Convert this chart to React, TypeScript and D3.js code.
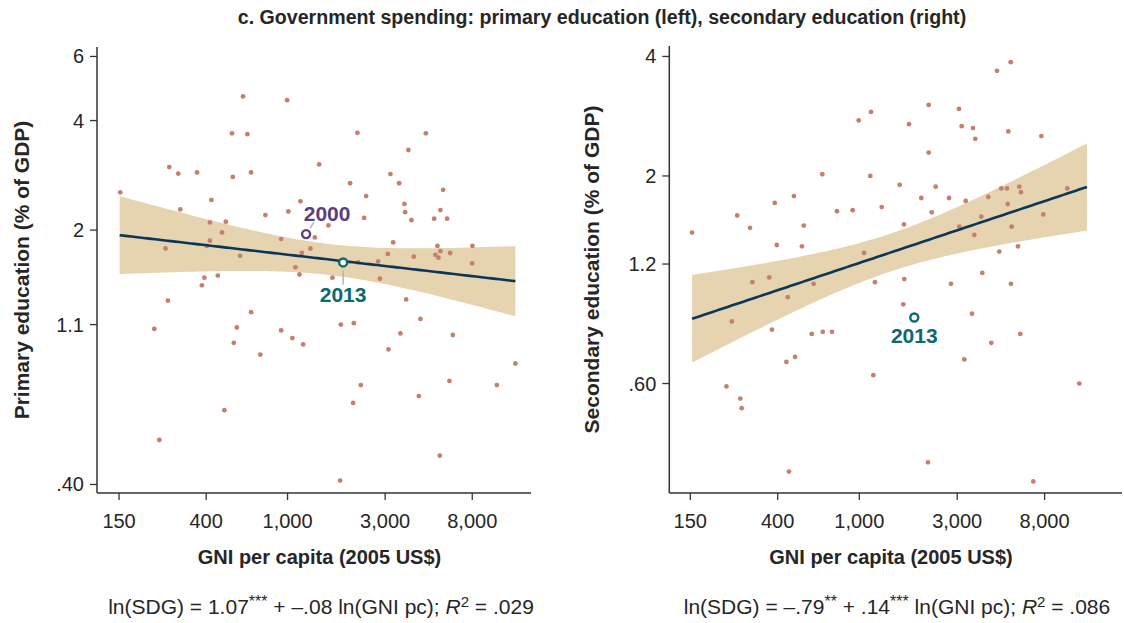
import React, { useEffect } from 'react';
import * as d3 from 'd3';

// ---------- tick definitions ----------
const gniTicks = [150, 400, 1000, 3000, 8000];
const gniTickLabels = ['150', '400', '1,000', '3,000', '8,000'];
const primaryTicks = [0.4, 1.1, 2, 4, 6];
const primaryTickLabels = ['.40', '1.1', '2', '4', '6'];
const secondaryTicks = [0.6, 1.2, 2, 4];
const secondaryTickLabels = ['.60', '1.2', '2', '4'];

// ---------- left panel: primary education ----------
const primaryGni = [
  152, 606, 995, 535, 636, 2196, 4743, 3899, 264, 292, 361, 540, 663, 1427, 3184, 3511, 2022, 2421, 5763, 424,
  299, 1156, 1009, 779, 3728, 3757, 5590, 2368, 4033, 5208, 6028, 499, 417, 1584, 478, 1359, 930, 417, 3282, 253,
  403, 5405, 8016, 1293, 1174, 586, 3092, 5590, 5285, 6236, 5466, 4143, 2772, 2213, 7990, 1092, 1143, 1657, 2826, 392,
  381, 456, 260, 3800, 663, 4463, 223, 565, 930, 1821, 2109, 1056, 546, 1191, 3564, 6429, 3113, 736, 13010, 2281,
  6188, 10551, 2092, 4383, 491, 236, 5553, 1807,
];
const primarySpend = [
  2.54, 4.66, 4.55, 3.69, 3.67, 3.70, 3.69, 3.32, 2.98, 2.86, 2.88, 2.80, 2.88, 3.03, 2.85, 2.69, 2.69, 2.48, 2.58, 2.42,
  2.28, 2.40, 2.25, 2.20, 2.36, 2.24, 2.27, 2.16, 2.13, 2.15, 2.15, 2.11, 2.10, 2.06, 1.97, 1.91, 1.89, 1.87, 1.85, 1.78,
  1.81, 1.81, 1.81, 1.78, 1.73, 1.70, 1.72, 1.75, 1.71, 1.73, 1.68, 1.69, 1.64, 1.63, 1.62, 1.58, 1.51, 1.48, 1.47, 1.48,
  1.41, 1.50, 1.28, 1.29, 1.19, 1.14, 1.07, 1.08, 1.06, 1.10, 1.11, 1.01, 0.98, 0.97, 1.04, 1.03, 0.94, 0.91, 0.86, 0.75,
  0.77, 0.75, 0.67, 0.70, 0.64, 0.53, 0.48, 0.41,
];

// ---------- right panel: secondary education ----------
const secondaryGni = [
  153, 5468, 4689, 2178, 3060, 1140, 993, 1746, 3155, 3582, 5322, 7709, 3675, 2178, 660, 1131, 1573, 2356, 4920, 5245,
  6021, 6138, 10320, 480, 387, 2004, 2736, 3299, 4252, 5288, 1285, 778, 928, 2253, 7883, 254, 3930, 293, 536, 1650,
  3071, 5529, 3634, 396, 525, 1054, 4811, 5934, 301, 364, 599, 448, 1192, 1656, 2797, 3975, 5486, 239, 375, 586,
  663, 736, 1638, 3541, 4398, 6090, 3248, 441, 486, 1170, 11810, 225, 263, 267, 2161, 454, 7048,
];
const secondarySpend = [
  1.44, 3.87, 3.68, 3.02, 2.95, 2.90, 2.76, 2.70, 2.67, 2.64, 2.59, 2.52, 2.48, 2.29, 2.02, 2.00, 1.90, 1.88, 1.86, 1.86,
  1.88, 1.82, 1.86, 1.78, 1.71, 1.76, 1.76, 1.73, 1.77, 1.70, 1.67, 1.63, 1.64, 1.62, 1.60, 1.59, 1.58, 1.48, 1.50, 1.51,
  1.49, 1.49, 1.42, 1.34, 1.33, 1.28, 1.29, 1.33, 1.08, 1.11, 1.07, 0.99, 1.08, 1.10, 1.07, 1.14, 1.07, 0.86, 0.82, 0.80,
  0.81, 0.81, 0.95, 0.90, 0.76, 0.80, 0.69, 0.68, 0.70, 0.63, 0.60, 0.59, 0.55, 0.52, 0.38, 0.36, 0.34,
];

// ---------- highlighted years ----------
const primaryHighlightYears = ['2000', '2013'];
const primaryHighlightGni = [1232, 1869];
const primaryHighlightSpend = [1.95, 1.63];
const secondaryHighlightYears = ['2013'];
const secondaryHighlightGni = [1853];
const secondaryHighlightSpend = [0.88];

// ---------- fitted lines with confidence bands (log-log) ----------
const primaryFit = { intercept: 0.9887, slope: -0.0653, centerLn: 7.387, spreadLn: 1.025, minHalf: 0.098, from: 151, to: 13000 };
const secondaryFit = { intercept: -1.003, slope: 0.1725, centerLn: 7.252, spreadLn: 1.066, minHalf: 0.110, from: 153, to: 12870 };

const primaryCaption = { intercept: '1.07', interceptStars: '***', slope: '\u2013.08', slopeStars: '', r2: '.029' };
const secondaryCaption = { intercept: '\u2013.79', interceptStars: '**', slope: '.14', slopeStars: '***', r2: '.086' };

// ---------- styles ----------
const FONT = '"Liberation Sans", Arial, Helvetica, sans-serif';
const DOT = '#c4806f';
const BAND = '#e6d4b1';
const LINE = '#0d3557';
const AXIS = '#333333';
const TEXT = '#262626';

type Hl = { year: string; gni: number; spend: number; color: string; labelDx: number; labelDy: number; leader: number[] | null };

type PanelProps = {
  x0: number; x1: number; y0: number; y1: number;
  xDomain: [number, number]; yDomain: [number, number];
  gni: number[]; spend: number[];
  yTicks: number[]; yTickLabels: string[];
  fit: typeof primaryFit;
  highlights: Hl[];
  yTitle: string; yTitleX: number;
  xTitleX: number; captionX: number;
  caption: typeof primaryCaption;
};

function Panel(p: PanelProps) {
  const x = d3.scaleLog().domain(p.xDomain).range([p.x0, p.x1]);
  const y = d3.scaleLog().domain(p.yDomain).range([p.y1, p.y0]);

  const lnFrom = Math.log(p.fit.from);
  const lnTo = Math.log(p.fit.to);
  const samples = d3.range(0, 101).map((i) => lnFrom + ((lnTo - lnFrom) * i) / 100);
  const half = (l: number) => p.fit.minHalf * Math.sqrt(1 + ((l - p.fit.centerLn) / p.fit.spreadLn) ** 2);
  const pred = (l: number) => p.fit.intercept + p.fit.slope * l;

  const area = d3
    .area<number>()
    .x((l) => x(Math.exp(l)))
    .y0((l) => y(Math.exp(pred(l) - half(l))))
    .y1((l) => y(Math.exp(pred(l) + half(l))));
  const line = d3
    .line<number>()
    .x((l) => x(Math.exp(l)))
    .y((l) => y(Math.exp(pred(l))));

  const tickLen = 7;

  return (
    <g>
      <path d={area(samples) || ''} fill={BAND} stroke="none" />
      {p.gni.map((g, i) => (
        <circle key={i} cx={x(g)} cy={y(p.spend[i])} r={2.4} fill={DOT} />
      ))}
      <path d={line(samples) || ''} fill="none" stroke={LINE} strokeWidth={2.6} />

      {p.highlights.map((h, i) => {
        const hx = x(h.gni);
        const hy = y(h.spend);
        return (
          <g key={i}>
            {h.leader && (
              <line x1={hx + h.leader[0]} y1={hy + h.leader[1]} x2={hx + h.leader[2]} y2={hy + h.leader[3]} stroke="#b5b5b5" strokeWidth={1.5} />
            )}
            <circle cx={hx} cy={hy} r={4} fill="white" stroke={h.color} strokeWidth={2.4} />
            <text x={hx + h.labelDx} y={hy + h.labelDy} textAnchor="middle" fontFamily={FONT} fontWeight="bold" fontSize={21} fill={h.color}>
              {h.year}
            </text>
          </g>
        );
      })}

      {/* axes */}
      <line x1={p.x0} y1={p.y0} x2={p.x0} y2={p.y1} stroke={AXIS} strokeWidth={1.5} />
      <line x1={p.x0} y1={p.y1} x2={p.x1} y2={p.y1} stroke={AXIS} strokeWidth={1.5} />
      {p.yTicks.map((t, i) => (
        <g key={'y' + i}>
          <line x1={p.x0 - tickLen} x2={p.x0} y1={y(t)} y2={y(t)} stroke={AXIS} strokeWidth={1.3} />
          <text x={p.x0 - tickLen - 6} y={y(t)} dy="0.35em" textAnchor="end" fontFamily={FONT} fontSize={20} fill={TEXT}>
            {p.yTickLabels[i]}
          </text>
        </g>
      ))}
      {gniTicks.map((t, i) => (
        <g key={'x' + i}>
          <line x1={x(t)} x2={x(t)} y1={p.y1} y2={p.y1 + tickLen} stroke={AXIS} strokeWidth={1.3} />
          <text x={x(t)} y={p.y1 + 35} textAnchor="middle" fontFamily={FONT} fontSize={20} fill={TEXT}>
            {gniTickLabels[i]}
          </text>
        </g>
      ))}

      <text x={p.xTitleX} y={p.y1 + 71} textAnchor="middle" fontFamily={FONT} fontWeight="bold" fontSize={20} fill={TEXT}>
        GNI per capita (2005 US$)
      </text>
      <text
        transform={`translate(${p.yTitleX},${(p.y0 + p.y1) / 2}) rotate(-90)`}
        textAnchor="middle"
        dy="0.35em"
        fontFamily={FONT}
        fontWeight="bold"
        fontSize={21}
        fill={TEXT}
      >
        {p.yTitle}
      </text>

      <text x={p.captionX} y={p.y1 + 121} textAnchor="middle" fontFamily={FONT} fontSize={21} fill={TEXT}>
        ln(SDG) = {p.caption.intercept}
        <tspan dy={-7} fontSize={16}>{p.caption.interceptStars}</tspan>
        <tspan dy={7}> + {p.caption.slope}</tspan>
        {p.caption.slopeStars && <tspan dy={-7} fontSize={16}>{p.caption.slopeStars}</tspan>}
        <tspan dy={p.caption.slopeStars ? 7 : 0}> ln(GNI pc); </tspan>
        <tspan fontStyle="italic">R</tspan>
        <tspan dy={-7} fontSize={15}>2</tspan>
        <tspan dy={7}> = {p.caption.r2}</tspan>
      </text>
    </g>
  );
}

export default function App() {
  useEffect(() => {
    document.body.style.margin = '0';
  }, []);

  const leftHl: Hl[] = primaryHighlightYears.map((yr, i) => ({
    year: yr,
    gni: primaryHighlightGni[i],
    spend: primaryHighlightSpend[i],
    color: yr === '2000' ? '#5b3f7d' : '#0a6a6e',
    labelDx: yr === '2000' ? 21 : 0,
    labelDy: yr === '2000' ? -13 : 40,
    leader: yr === '2000' ? [4, -6, 8, -12] : [0, 8, 0, 22],
  }));
  const rightHl: Hl[] = secondaryHighlightYears.map((yr, i) => ({
    year: yr,
    gni: secondaryHighlightGni[i],
    spend: secondaryHighlightSpend[i],
    color: '#0a6a6e',
    labelDx: 0,
    labelDy: 25,
    leader: null,
  }));

  return (
    <svg width={1124} height={623} style={{ display: 'block', background: 'white' }}>
      <rect width={1124} height={623} fill="white" />
      <text x={602} y={24} textAnchor="middle" fontFamily={FONT} fontWeight="bold" fontSize={19.6} fill={TEXT}>
        c. Government spending: primary education (left), secondary education (right)
      </text>
      <Panel
        x0={97}
        x1={531}
        y0={47}
        y1={493}
        xDomain={[117, 15500]}
        yDomain={[0.379, 6.37]}
        gni={primaryGni}
        spend={primarySpend}
        yTicks={primaryTicks}
        yTickLabels={primaryTickLabels}
        fit={primaryFit}
        highlights={leftHl}
        yTitle="Primary education (% of GDP)"
        yTitleX={22}
        xTitleX={319.5}
        captionX={321}
        caption={primaryCaption}
      />
      <Panel
        x0={669.3}
        x1={1122}
        y0={46}
        y1={493}
        xDomain={[118.5, 19070]}
        yDomain={[0.318, 4.25]}
        gni={secondaryGni}
        spend={secondarySpend}
        yTicks={secondaryTicks}
        yTickLabels={secondaryTickLabels}
        fit={secondaryFit}
        highlights={rightHl}
        yTitle="Secondary education (% of GDP)"
        yTitleX={592}
        xTitleX={891}
        captionX={897}
        caption={secondaryCaption}
      />
    </svg>
  );
}
